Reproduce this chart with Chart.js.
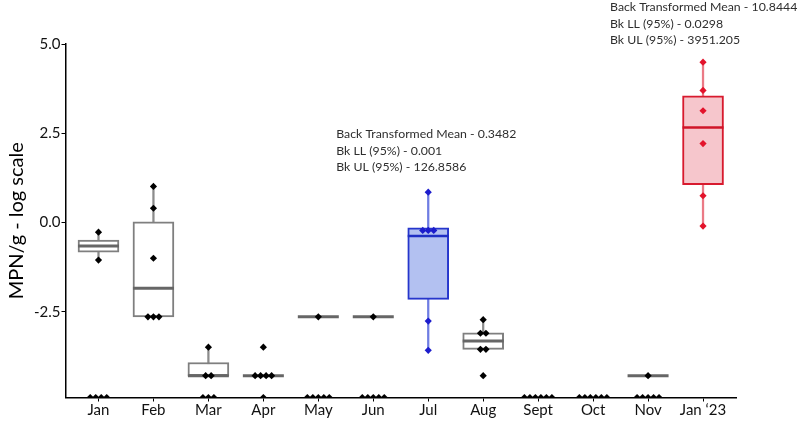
<!DOCTYPE html>
<html>
<head>
<meta charset="utf-8">
<script src="https://cdn.jsdelivr.net/npm/chart.js"></script>
<style>
  html, body { margin: 0; padding: 0; background: #fff; }
  #wrap { width: 800px; height: 421px; }
</style>
</head>
<body>
<div id="wrap"><canvas id="c" width="800" height="421"></canvas></div>
<script>
// ---------- data ----------
const months = ['Jan', 'Feb', 'Mar', 'Apr', 'May', 'Jun', 'Jul', 'Aug', 'Sept', 'Oct', 'Nov', 'Jan \u201823'];
const yTicks = [-2.5, 0.0, 2.5, 5.0];
const B = -4.9; // below detection (axis floor)

const q1          = [-0.83, -2.64, -4.29, null, null, null, -2.15, -3.55, null, null, null, 1.06];
const q3          = [-0.49,  0.02, -3.92, null, null, null, -0.15, -3.09, null, null, null, 3.55];
const medians     = [-0.66, -1.84, -4.29, -4.29, -2.64, -2.64, -0.38, -3.32, null, null, -4.29, 2.66];
const whiskerLow  = [-1.05, -2.64, -4.29, null, null, null, -3.58, -3.55, null, null, null, -0.10];
const whiskerHigh = [-0.27,  1.01, -3.49, null, null, null,  0.85, -2.72, null, null, null, 4.49];

const samples = [
  [-0.27, -1.05, B, B, B, B],
  [1.01, 0.40, -1.00, -2.64, -2.64, -2.64],
  [-3.49, -4.29, -4.29, B, B, B],
  [-3.49, -4.29, -4.29, -4.29, -4.29, B],
  [-2.64, B, B, B, B, B],
  [-2.64, B, B, B, B, B],
  [0.85, -0.22, -0.22, -0.22, -2.76, -3.58],
  [-2.72, -3.10, -3.10, -3.55, -3.55, -4.29],
  [B, B, B, B, B, B],
  [B, B, B, B, B, B],
  [-4.29, B, B, B, B, B],
  [4.49, 3.70, 3.13, 2.21, 0.75, -0.10]
];

const notes = [
  { month: 6,  lines: ['Back Transformed Mean - 0.3482', 'Bk LL (95%) - 0.001', 'Bk UL (95%) - 126.8586'] },
  { month: 11, lines: ['Back Transformed Mean - 10.8444', 'Bk LL (95%) - 0.0298', 'Bk UL (95%) - 3951.205'] }
];

// ---------- styles ----------
const palette = {
  gray: { box: '#7f7f7f', fill: '#ffffff', median: '#666666', whisker: '#8c8c8c', point: '#000000' },
  blue: { box: '#2636cc', fill: '#b3c1f1', median: '#1f2fc4', whisker: '#6f7de3', point: '#1c1ccc' },
  red:  { box: '#d81a2e', fill: '#f6c6cc', median: '#d01428', whisker: '#eb7a86', point: '#e3132b' }
};
const highlight = { 6: 'blue', 11: 'red' };
const styleOf = i => palette[highlight[i] || 'gray'];

// ---------- build datasets ----------
const boxData = [], boxFill = [], boxBorder = [];
const whiskData = [], whiskColor = [];
const medData = [], medColor = [], medWidth = [];
const ptData = [], ptColor = [];

months.forEach((m, i) => {
  const s = styleOf(i);
  if (q1[i] !== null && q3[i] !== null) {
    boxData.push({ x: i, y: [q1[i], q3[i]] });
    boxFill.push(s.fill); boxBorder.push(s.box);
  }
  if (whiskerLow[i] !== null && whiskerHigh[i] !== null) {
    whiskData.push({ x: i, y: [whiskerLow[i], whiskerHigh[i]] });
    whiskColor.push(s.whisker);
  }
  if (medians[i] !== null) {
    medData.push({ x: i, y: medians[i] });
    medColor.push(s.median);
    medWidth.push(highlight[i] ? 2.5 : 3);
  }
  // horizontal spreading of coincident samples (beeswarm style)
  const groups = {};
  samples[i].forEach(v => { (groups[v] = groups[v] || []).push(v); });
  Object.keys(groups).forEach(k => {
    const n = groups[k].length;
    groups[k].forEach((v, j) => {
      ptData.push({ x: i + (j - (n - 1) / 2) * 0.1, y: v });
      ptColor.push(s.point);
    });
  });
});

const notesPlugin = {
  id: 'notes',
  afterDraw(chart) {
    const ctx = chart.ctx;
    const xs = chart.scales.x;
    ctx.save();
    ctx.font = '12.3px Lato, "Open Sans", sans-serif';
    ctx.fillStyle = '#2e2e2e';
    ctx.textBaseline = 'middle';
    ctx.textAlign = 'left';
    const anchors = { 6: { dx: -92, y0: 134 }, 11: { dx: -93, y0: 7 } };
    notes.forEach(n => {
      const a = anchors[n.month];
      const x = xs.getPixelForValue(n.month) + a.dx;
      n.lines.forEach((t, k) => ctx.fillText(t, x, a.y0 + k * 16.6));
    });
    ctx.restore();
  }
};

Chart.defaults.font.family = 'Lato, "Open Sans", sans-serif';
Chart.defaults.color = '#111';

new Chart(document.getElementById('c'), {
  data: {
    datasets: [
      {
        type: 'scatter', label: 'samples', data: ptData, order: 0,
        pointStyle: 'rectRot', pointRadius: 3.6, pointBackgroundColor: ptColor,
        pointBorderColor: ptColor, pointBorderWidth: 0, pointHoverRadius: 3.6
      },
      {
        type: 'line', label: 'median', data: medData, order: 1, showLine: false,
        pointStyle: 'line', pointRadius: 20.5, pointHoverRadius: 20.5,
        pointBorderColor: medColor, pointBorderWidth: medWidth
      },
      {
        type: 'bar', label: 'box', data: boxData, order: 2, grouped: false,
        barThickness: 41, borderWidth: 2, borderSkipped: false,
        backgroundColor: boxFill, borderColor: boxBorder
      },
      {
        type: 'bar', label: 'whisker', data: whiskData, order: 3, grouped: false,
        barThickness: 1.6, borderWidth: 0, backgroundColor: whiskColor
      }
    ]
  },
  options: {
    responsive: false,
    animation: false,
    events: [],
    layout: { padding: { top: 44, right: 64, bottom: 1, left: 5 } },
    plugins: { legend: { display: false }, tooltip: { enabled: false } },
    scales: {
      x: {
        type: 'linear', min: -0.6, max: 11.6, offset: false,
        afterBuildTicks: s => { s.ticks = months.map((_, i) => ({ value: i })); },
        ticks: { callback: v => months[v], font: { size: 15, lineHeight: 1 }, color: '#111', padding: 1, autoSkip: false, maxRotation: 0 },
        grid: { display: true, offset: false, drawOnChartArea: false, drawTicks: true, tickLength: 4, color: '#000', lineWidth: 1 },
        border: { display: true, color: '#000', width: 1.5 }
      },
      y: {
        type: 'linear', min: B, max: 5.0,
        afterBuildTicks: s => { s.ticks = yTicks.map(v => ({ value: v })); },
        ticks: { callback: v => Number(v).toFixed(1), font: { size: 15 }, color: '#111', padding: 1 },
        grid: { display: true, drawOnChartArea: false, drawTicks: true, tickLength: 4, color: '#000', lineWidth: 1 },
        border: { display: true, color: '#000', width: 1.5 },
        title: { display: true, text: 'MPN/g - log scale', font: { size: 20 }, color: '#000', padding: { top: 0, bottom: 4 } }
      }
    }
  },
  plugins: [notesPlugin]
});
</script>
</body>
</html>
